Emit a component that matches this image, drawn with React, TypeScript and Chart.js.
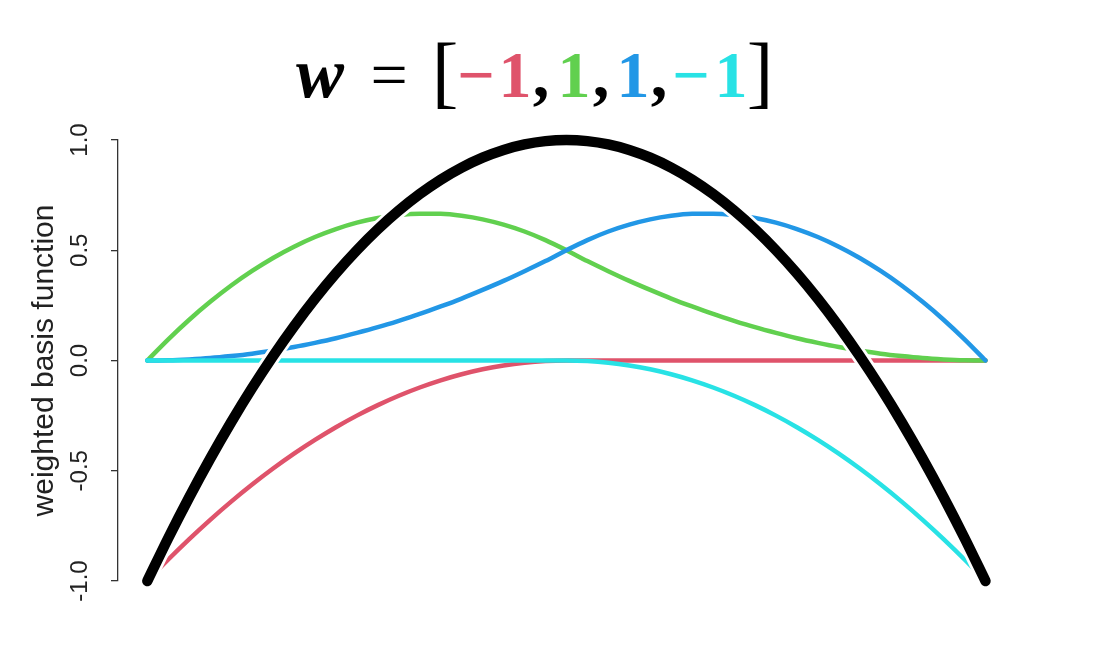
import React, { useEffect, useRef } from "react";
import { Chart, registerables } from "chart.js";

Chart.register(...registerables);

// x positions of the sampled curve (0 .. 1)
const xs = [
  0, 0.025, 0.05, 0.075, 0.1, 0.125, 0.15, 0.175, 0.2, 0.225, 0.25, 0.275, 0.3, 0.325, 0.35, 0.375, 0.4, 0.425, 0.45, 0.475,
  0.5, 0.525, 0.55, 0.575, 0.6, 0.625, 0.65, 0.675, 0.7, 0.725, 0.75, 0.775, 0.8, 0.825, 0.85, 0.875, 0.9, 0.925, 0.95, 0.975, 1,
];

// weighted basis functions
const redVals = [
  -1, -0.9025, -0.81, -0.7225, -0.64, -0.5625, -0.49, -0.4225, -0.36, -0.3025, -0.25, -0.2025, -0.16, -0.1225, -0.09, -0.0625, -0.04, -0.0225, -0.01, -0.0025,
  0, 0, 0, 0, 0, 0, 0, 0, 0, 0, 0, 0, 0, 0, 0, 0, 0, 0, 0, 0, 0,
];
const greenVals = [
  0, 0.096, 0.185, 0.266, 0.34, 0.406, 0.465, 0.516, 0.56, 0.596, 0.625, 0.646, 0.66, 0.666, 0.665, 0.656, 0.64, 0.616, 0.585, 0.546,
  0.5, 0.451, 0.405, 0.361, 0.32, 0.281, 0.245, 0.211, 0.18, 0.151, 0.125, 0.101, 0.08, 0.061, 0.045, 0.031, 0.02, 0.011, 0.005, 0.001, 0,
];
const blueVals = [
  0, 0.001, 0.005, 0.011, 0.02, 0.031, 0.045, 0.061, 0.08, 0.101, 0.125, 0.151, 0.18, 0.211, 0.245, 0.281, 0.32, 0.361, 0.405, 0.451,
  0.5, 0.546, 0.585, 0.616, 0.64, 0.656, 0.665, 0.666, 0.66, 0.646, 0.625, 0.596, 0.56, 0.516, 0.465, 0.406, 0.34, 0.266, 0.185, 0.096, 0,
];
const cyanVals = [
  0, 0, 0, 0, 0, 0, 0, 0, 0, 0, 0, 0, 0, 0, 0, 0, 0, 0, 0, 0,
  0, -0.0025, -0.01, -0.0225, -0.04, -0.0625, -0.09, -0.1225, -0.16, -0.2025, -0.25, -0.3025, -0.36, -0.4225, -0.49, -0.5625, -0.64, -0.7225, -0.81, -0.9025, -1,
];
const sumVals = [
  -1, -0.805, -0.62, -0.445, -0.28, -0.125, 0.02, 0.155, 0.28, 0.395, 0.5, 0.595, 0.68, 0.755, 0.82, 0.875, 0.92, 0.955, 0.98, 0.995,
  1, 0.995, 0.98, 0.955, 0.92, 0.875, 0.82, 0.755, 0.68, 0.595, 0.5, 0.395, 0.28, 0.155, 0.02, -0.125, -0.28, -0.445, -0.62, -0.805, -1,
];

const yTicks = [-1, -0.5, 0, 0.5, 1];
const yTickLabels = ["-1.0", "-0.5", "0.0", "0.5", "1.0"];
const yAxisTitle = "weighted basis function";

const weights = [-1, 1, 1, -1];
const weightColors = ["#DF536B", "#61D04F", "#2297E6", "#28E2E5"];

const toPoints = (vals: number[]) => xs.map((x, i) => ({ x, y: vals[i] }));

const overlayPlugin = {
  id: "overlay",
  afterDraw(chart: any) {
    const ctx: CanvasRenderingContext2D = chart.ctx;
    const yScale = chart.scales.y;
    ctx.save();
    // y tick labels (rotated, R style)
    ctx.fillStyle = "#222";
    ctx.font = '24px "Liberation Sans", Arial, sans-serif';
    ctx.textAlign = "center";
    ctx.textBaseline = "alphabetic";
    yTicks.forEach((v, i) => {
      const py = yScale.getPixelForValue(v);
      ctx.save();
      ctx.translate(87, py);
      ctx.rotate(-Math.PI / 2);
      ctx.fillText(yTickLabels[i], 0, 0);
      ctx.restore();
    });
    // axis title
    ctx.font = '30px "Liberation Sans", Arial, sans-serif';
    const midY = (yScale.getPixelForValue(1) + yScale.getPixelForValue(-1)) / 2;
    ctx.save();
    ctx.translate(53, midY);
    ctx.rotate(-Math.PI / 2);
    ctx.fillText(yAxisTitle, 0, 0);
    ctx.restore();

    // main title: w = [-1, 1, 1, -1]
    const base = 97;
    const serif = '"Liberation Serif", "Times New Roman", serif';
    const draw = (t: string, x: number, color: string, font: string, by = base) => {
      ctx.fillStyle = color;
      ctx.font = font;
      ctx.textAlign = "center";
      ctx.fillText(t, x, by);
    };
    draw("w", 320, "#000", `italic bold 72px ${serif}`);
    draw("=", 389, "#000", `66px ${serif}`);
    draw("[", 445, "#000", `80px ${serif}`, 98);
    const oneX = [515, 574, 633, 731];
    const minusX = [476, 0, 0, 691];
    const commaX = [541, 601, 659];
    weights.forEach((w, i) => {
      if (w < 0) draw("\u2212", minusX[i], weightColors[i], `bold 66px ${serif}`);
      draw(String(Math.abs(w)), oneX[i], weightColors[i], `bold 66px ${serif}`);
      if (i < commaX.length) draw(",", commaX[i], "#000", `bold 66px ${serif}`);
    });
    draw("]", 760, "#000", `80px ${serif}`, 98);
    ctx.restore();
  },
};

export default function App() {
  const ref = useRef<HTMLCanvasElement | null>(null);
  useEffect(() => {
    if (!ref.current) return;
    const common = {
      pointRadius: 0,
      cubicInterpolationMode: "monotone" as const,
      borderCapStyle: "round" as const,
      borderJoinStyle: "round" as const,
      clip: false as any,
      fill: false,
    };
    const chart = new Chart(ref.current, {
      type: "line",
      data: {
        datasets: [
          { ...common, label: "sum", data: toPoints(sumVals), borderColor: "#000000", borderWidth: 10.5, order: 0 },
          { ...common, label: "halo", data: toPoints(sumVals), borderColor: "#ffffff", borderWidth: 16, order: 1 },
          { ...common, label: "B4", data: toPoints(cyanVals), borderColor: weightColors[3], borderWidth: 4.5, order: 2 },
          { ...common, label: "B3", data: toPoints(blueVals), borderColor: weightColors[2], borderWidth: 4.5, order: 3 },
          { ...common, label: "B2", data: toPoints(greenVals), borderColor: weightColors[1], borderWidth: 4.5, order: 4 },
          { ...common, label: "B1", data: toPoints(redVals), borderColor: weightColors[0], borderWidth: 4.5, order: 5 },
        ],
      },
      options: {
        responsive: false,
        animation: false,
        layout: { padding: { top: 140, bottom: 75, left: 0, right: 78 } },
        plugins: {
          legend: { display: false },
          tooltip: { enabled: false },
          title: { display: false },
        },
        elements: { point: { radius: 0 } },
        scales: {
          x: { type: "linear", min: -0.035, max: 1.04, display: false },
          y: {
            type: "linear",
            min: -1,
            max: 1,
            ticks: { stepSize: 0.5, display: false },
            grid: { drawOnChartArea: false, drawTicks: true, tickLength: 7, color: "#333", lineWidth: 1.3 },
            border: { display: true, color: "#333", width: 1.3 },
            afterFit: (scale: any) => {
              scale.width = 118;
            },
          },
        },
      },
      plugins: [overlayPlugin],
    });
    return () => chart.destroy();
  }, []);
  return (
    <div style={{ position: "fixed", left: 0, top: 0, width: 1097, height: 656, background: "#fff" }}>
      <canvas ref={ref} width={1097} height={656} style={{ display: "block" }} />
    </div>
  );
}
